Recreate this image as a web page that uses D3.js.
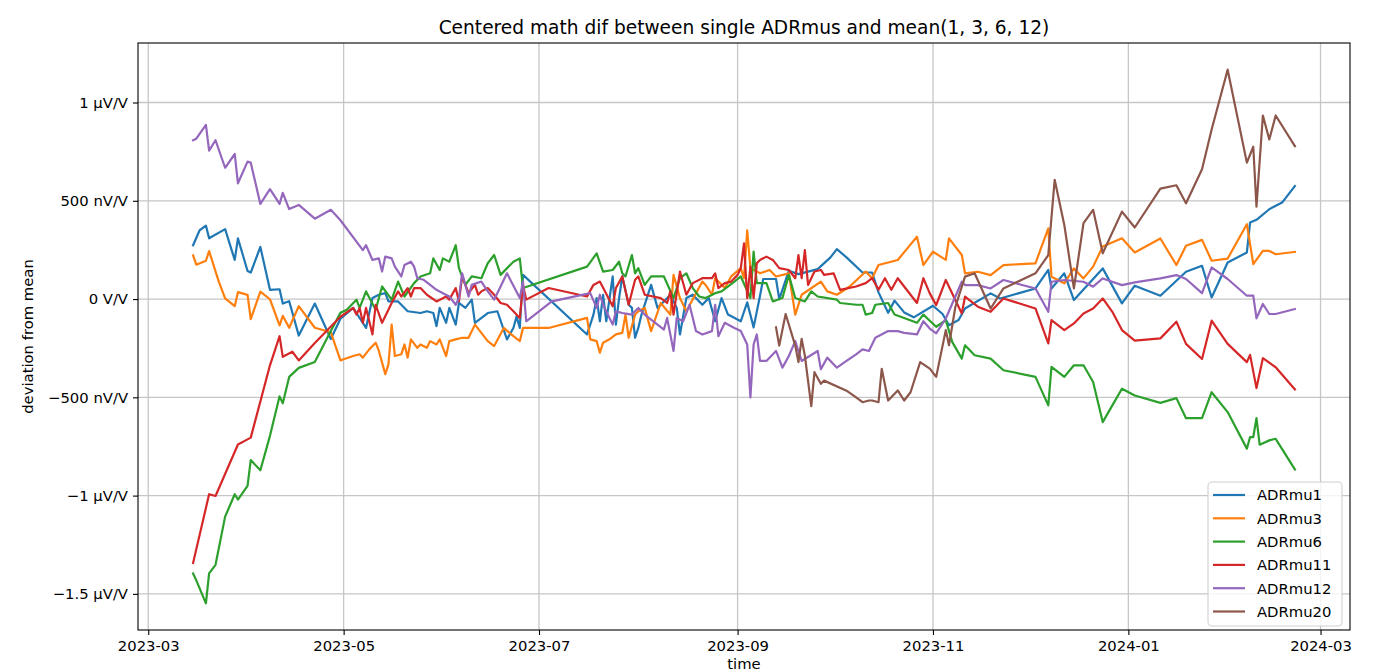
<!DOCTYPE html>
<html><head><meta charset="utf-8">
<script src="https://cdn.jsdelivr.net/npm/d3@7"></script>
<style>
body{margin:0;background:#fff;}
svg text{font-family:"DejaVu Sans",sans-serif;fill:#000;}
</style></head><body>
<svg id="chart" width="1382" height="671"></svg>
<script>
const chartTitle = "Centered math dif between single ADRmus and mean(1, 3, 6, 12)";
const xLabel = "time";
const yLabel = "deviation from mean";
const seriesNames = ["ADRmu1","ADRmu3","ADRmu6","ADRmu11","ADRmu12","ADRmu20"];
const seriesColors = ["#1f77b4","#ff7f0e","#2ca02c","#d62728","#9467bd","#8c564b"];
const yTickValues = [-1500,-1000,-500,0,500,1000]; // nV/V
const yTickLabels = ["\u22121.5 \u00b5V/V","\u22121 \u00b5V/V","\u2212500 nV/V","0 V/V","500 nV/V","1 \u00b5V/V"];
const xTickDates = ["2023-03-01","2023-05-01","2023-07-01","2023-09-01","2023-11-01","2024-01-01","2024-03-01"];
const xTickLabels = ["2023-03","2023-05","2023-07","2023-09","2023-11","2024-01","2024-03"];

// values in nV/V
const adrmu1 = [["2023-03-15",274],["2023-03-17",349],["2023-03-19",374],["2023-03-20",309],["2023-03-25",356],["2023-03-28",199],["2023-03-29",309],["2023-04-01",143],["2023-04-02",135],["2023-04-05",265],["2023-04-08",47],["2023-04-11",50],["2023-04-12",-23],["2023-04-14",-11],["2023-04-17",-186],["2023-04-22",-23],["2023-04-27",-203],["2023-04-30",-100],["2023-05-04",-45],["2023-05-05",-71],["2023-05-08",-147],["2023-05-10",5],["2023-05-12",22],["2023-05-14",30],["2023-05-15",-12],["2023-05-18",-12],["2023-05-21",-62],["2023-05-25",-71],["2023-05-27",-62],["2023-05-29",-71],["2023-05-30",-138],["2023-05-31",-45],["2023-06-02",-121],["2023-06-03",-45],["2023-06-05",-130],["2023-06-06",-20],["2023-06-08",-45],["2023-06-10",-3],["2023-06-11",-121],["2023-06-15",-71],["2023-06-18",-62],["2023-06-21",-205],["2023-06-23",-147],["2023-06-24",-88],["2023-06-25",-147],["2023-06-26",123],["2023-07-16",-180],["2023-07-18",-79],["2023-07-19",5],["2023-07-20",-113],["2023-07-21",22],["2023-07-22",-113],["2023-07-24",115],["2023-07-25",-130],["2023-07-26",5],["2023-07-27",115],["2023-07-29",-29],["2023-07-30",-45],["2023-07-31",-197],["2023-08-01",-147],["2023-08-02",-79],["2023-08-05",72],["2023-08-07",-45],["2023-08-09",-12],["2023-08-11",22],["2023-08-13",-45],["2023-08-14",-180],["2023-08-16",5],["2023-08-18",22],["2023-08-20",-12],["2023-08-21",-29],["2023-08-23",5],["2023-08-25",-113],["2023-08-27",5],["2023-08-29",-79],["2023-09-02",-113],["2023-09-04",-17],["2023-09-06",-144],["2023-09-08",17],["2023-09-09",102],["2023-09-13",102],["2023-09-14",0],["2023-09-17",144],["2023-09-20",127],["2023-09-26",152],["2023-09-30",212],["2023-10-02",254],["2023-10-05",212],["2023-10-10",135],["2023-10-13",135],["2023-10-15",34],["2023-10-18",-70],["2023-10-20",-8],["2023-10-23",-68],["2023-10-26",-93],["2023-11-01",-34],["2023-11-04",-76],["2023-11-06",-133],["2023-11-09",-107],["2023-11-11",-48],["2023-11-19",29],["2023-11-22",3],["2023-12-03",54],["2023-12-07",148],["2023-12-08",54],["2023-12-12",131],["2023-12-15",-5],["2023-12-24",156],["2023-12-30",-22],["2024-01-03",68],["2024-01-11",17],["2024-01-19",139],["2024-01-24",169],["2024-01-27",8],["2024-02-01",186],["2024-02-07",237],["2024-02-08",389],["2024-02-10",403],["2024-02-14",457],["2024-02-18",491],["2024-02-22",575]];

const adrmu3 = [["2023-03-15",222],["2023-03-16",175],["2023-03-19",195],["2023-03-20",244],["2023-03-23",90],["2023-03-25",3],["2023-03-28",-36],["2023-03-29",35],["2023-04-01",21],["2023-04-02",-102],["2023-04-05",38],["2023-04-08",-1],["2023-04-11",-134],["2023-04-12",-85],["2023-04-14",-146],["2023-04-17",-36],["2023-04-22",-146],["2023-04-27",-169],["2023-04-30",-312],["2023-05-01",-306],["2023-05-04",-290],["2023-05-06",-281],["2023-05-07",-298],["2023-05-09",-256],["2023-05-11",-222],["2023-05-12",-264],["2023-05-14",-382],["2023-05-15",-332],["2023-05-16",-130],["2023-05-17",-290],["2023-05-19",-281],["2023-05-20",-231],["2023-05-21",-298],["2023-05-22",-205],["2023-05-24",-248],["2023-05-25",-231],["2023-05-27",-248],["2023-05-28",-214],["2023-05-30",-231],["2023-05-31",-205],["2023-06-01",-248],["2023-06-02",-290],["2023-06-03",-214],["2023-06-05",-205],["2023-06-07",-197],["2023-06-09",-197],["2023-06-11",-130],["2023-06-15",-214],["2023-06-17",-239],["2023-06-20",-147],["2023-06-23",-189],["2023-06-25",-214],["2023-06-26",-147],["2023-07-04",-147],["2023-07-16",-96],["2023-07-17",-205],["2023-07-19",-214],["2023-07-20",-273],["2023-07-21",-222],["2023-07-23",-205],["2023-07-25",-180],["2023-07-27",-172],["2023-07-28",-79],["2023-07-29",-197],["2023-07-31",-79],["2023-08-01",-62],["2023-08-03",-45],["2023-08-05",-163],["2023-08-08",-20],["2023-08-11",-79],["2023-08-12",123],["2023-08-14",5],["2023-08-16",-62],["2023-08-21",89],["2023-08-22",72],["2023-08-24",22],["2023-08-25",106],["2023-08-28",56],["2023-08-30",115],["2023-09-02",157],["2023-09-03",106],["2023-09-04",350],["2023-09-05",157],["2023-09-08",131],["2023-09-11",148],["2023-09-13",115],["2023-09-17",131],["2023-09-19",-79],["2023-09-21",22],["2023-09-27",89],["2023-09-29",39],["2023-10-02",22],["2023-10-06",64],["2023-10-11",140],["2023-10-13",106],["2023-10-15",173],["2023-10-21",199],["2023-10-24",258],["2023-10-27",317],["2023-10-29",173],["2023-11-01",241],["2023-11-05",199],["2023-11-06",309],["2023-11-10",224],["2023-11-11",131],["2023-11-15",139],["2023-11-19",122],["2023-11-23",173],["2023-12-03",182],["2023-12-07",360],["2023-12-08",114],["2023-12-12",80],["2023-12-15",156],["2023-12-18",105],["2023-12-21",165],["2023-12-24",267],["2023-12-30",309],["2024-01-03",237],["2024-01-11",308],["2024-01-16",173],["2024-01-19",271],["2024-01-24",301],["2024-01-27",195],["2024-02-01",206],["2024-02-07",381],["2024-02-09",178],["2024-02-12",245],["2024-02-14",245],["2024-02-16",228],["2024-02-22",240]];

const adrmu6 = [["2023-03-15",-1396],["2023-03-16",-1431],["2023-03-19",-1548],["2023-03-20",-1396],["2023-03-22",-1352],["2023-03-25",-1107],["2023-03-28",-993],["2023-03-29",-1020],["2023-04-01",-950],["2023-04-02",-819],["2023-04-05",-871],["2023-04-08",-696],["2023-04-11",-495],["2023-04-12",-530],["2023-04-14",-396],["2023-04-17",-350],["2023-04-22",-320],["2023-04-27",-163],["2023-04-30",-70],["2023-05-02",-54],["2023-05-05",-3],["2023-05-06",-45],["2023-05-08",39],["2023-05-11",-54],["2023-05-13",64],["2023-05-16",-3],["2023-05-18",89],["2023-05-20",13],["2023-05-23",81],["2023-05-25",115],["2023-05-28",131],["2023-05-29",207],["2023-05-31",148],["2023-06-01",207],["2023-06-03",190],["2023-06-05",274],["2023-06-06",157],["2023-06-08",72],["2023-06-10",115],["2023-06-13",106],["2023-06-15",182],["2023-06-17",224],["2023-06-19",123],["2023-06-23",190],["2023-06-25",207],["2023-06-26",56],["2023-07-16",165],["2023-07-19",232],["2023-07-21",140],["2023-07-24",148],["2023-07-26",190],["2023-07-27",131],["2023-07-28",115],["2023-07-30",224],["2023-07-31",131],["2023-08-01",157],["2023-08-03",72],["2023-08-05",115],["2023-08-09",115],["2023-08-12",5],["2023-08-14",106],["2023-08-16",131],["2023-08-18",56],["2023-08-20",13],["2023-08-22",5],["2023-08-25",30],["2023-08-27",39],["2023-08-31",89],["2023-09-02",115],["2023-09-05",5],["2023-09-06",241],["2023-09-07",81],["2023-09-10",81],["2023-09-12",-12],["2023-09-15",5],["2023-09-17",123],["2023-09-19",5],["2023-09-22",-12],["2023-09-24",39],["2023-09-26",13],["2023-10-02",-3],["2023-10-03",-20],["2023-10-08",-29],["2023-10-10",-29],["2023-10-11",-79],["2023-10-13",-71],["2023-10-14",-29],["2023-10-18",-20],["2023-10-20",-79],["2023-10-23",-96],["2023-10-27",-121],["2023-10-29",-79],["2023-10-31",-110],["2023-11-02",-141],["2023-11-05",-107],["2023-11-07",-218],["2023-11-10",-303],["2023-11-11",-235],["2023-11-14",-286],["2023-11-19",-303],["2023-11-23",-362],["2023-12-03",-396],["2023-12-07",-541],["2023-12-08",-345],["2023-12-12",-396],["2023-12-15",-337],["2023-12-18",-337],["2023-12-21",-422],["2023-12-24",-626],["2023-12-27",-541],["2023-12-30",-456],["2024-01-03",-491],["2024-01-11",-528],["2024-01-16",-504],["2024-01-19",-606],["2024-01-24",-606],["2024-01-27",-474],["2024-02-01",-575],["2024-02-07",-761],["2024-02-08",-702],["2024-02-09",-702],["2024-02-10",-606],["2024-02-11",-741],["2024-02-14",-719],["2024-02-16",-711],["2024-02-22",-867]];

const adrmu11 = [["2023-03-15",-1343],["2023-03-20",-993],["2023-03-22",-1002],["2023-03-29",-740],["2023-04-01",-714],["2023-04-02",-705],["2023-04-05",-521],["2023-04-08",-337],["2023-04-11",-189],["2023-04-12",-294],["2023-04-15",-268],["2023-04-17",-312],["2023-04-22",-224],["2023-04-30",-90],["2023-05-04",-45],["2023-05-05",-79],["2023-05-06",-45],["2023-05-07",-121],["2023-05-08",-45],["2023-05-10",-180],["2023-05-11",-29],["2023-05-13",-121],["2023-05-14",-88],["2023-05-16",-20],["2023-05-18",39],["2023-05-19",13],["2023-05-21",56],["2023-05-22",13],["2023-05-23",56],["2023-05-25",56],["2023-05-27",22],["2023-05-30",-12],["2023-06-02",13],["2023-06-03",-3],["2023-06-05",56],["2023-06-06",-12],["2023-06-07",115],["2023-06-09",30],["2023-06-11",72],["2023-06-12",22],["2023-06-13",39],["2023-06-15",56],["2023-06-17",22],["2023-06-19",-20],["2023-06-21",-29],["2023-06-23",-62],["2023-06-25",-96],["2023-06-26",72],["2023-06-27",-3],["2023-07-04",56],["2023-07-16",13],["2023-07-18",72],["2023-07-20",89],["2023-07-24",-37],["2023-07-25",56],["2023-07-27",115],["2023-07-29",-29],["2023-07-31",98],["2023-08-01",115],["2023-08-03",22],["2023-08-08",5],["2023-08-10",-20],["2023-08-11",39],["2023-08-12",-79],["2023-08-14",140],["2023-08-16",22],["2023-08-18",81],["2023-08-21",106],["2023-08-24",106],["2023-08-25",131],["2023-08-26",56],["2023-08-28",81],["2023-08-30",89],["2023-09-01",123],["2023-09-02",157],["2023-09-03",283],["2023-09-04",5],["2023-09-05",165],["2023-09-06",5],["2023-09-07",182],["2023-09-08",199],["2023-09-10",216],["2023-09-12",199],["2023-09-14",157],["2023-09-17",148],["2023-09-19",106],["2023-09-20",224],["2023-09-21",106],["2023-09-22",249],["2023-09-23",72],["2023-09-25",140],["2023-09-27",148],["2023-09-28",123],["2023-10-01",131],["2023-10-03",47],["2023-10-08",64],["2023-10-11",81],["2023-10-13",106],["2023-10-15",47],["2023-10-17",106],["2023-10-19",47],["2023-10-21",106],["2023-10-23",64],["2023-10-27",-20],["2023-10-29",106],["2023-10-31",29],["2023-11-02",-31],["2023-11-05",97],["2023-11-10",-73],["2023-11-11",12],["2023-11-15",-39],["2023-11-19",-65],["2023-11-23",3],["2023-12-03",-48],["2023-12-07",-226],["2023-12-08",-107],["2023-12-12",-158],["2023-12-15",-124],["2023-12-18",-73],["2023-12-21",-48],["2023-12-24",3],["2023-12-27",-65],["2023-12-30",-158],["2024-01-03",-211],["2024-01-11",-200],["2024-01-16",-115],["2024-01-19",-228],["2024-01-24",-305],["2024-01-27",-110],["2024-02-01",-228],["2024-02-07",-321],["2024-02-08",-284],["2024-02-10",-453],["2024-02-12",-301],["2024-02-16",-347],["2024-02-22",-460]];

const adrmu12 = [["2023-03-15",808],["2023-03-16",816],["2023-03-19",886],["2023-03-20",755],["2023-03-22",808],["2023-03-25",668],["2023-03-28",738],["2023-03-29",589],["2023-04-01",699],["2023-04-02",694],["2023-04-05",484],["2023-04-08",559],["2023-04-11",484],["2023-04-12",540],["2023-04-14",458],["2023-04-17",479],["2023-04-22",409],["2023-04-27",454],["2023-04-30",401],["2023-05-07",249],["2023-05-08",274],["2023-05-10",199],["2023-05-12",207],["2023-05-13",140],["2023-05-14",216],["2023-05-16",207],["2023-05-17",165],["2023-05-19",115],["2023-05-20",173],["2023-05-22",190],["2023-05-23",165],["2023-05-24",106],["2023-05-26",98],["2023-05-30",47],["2023-06-01",30],["2023-06-03",13],["2023-06-05",-29],["2023-06-06",5],["2023-06-07",131],["2023-06-09",13],["2023-06-10",72],["2023-06-13",89],["2023-06-15",39],["2023-06-17",-3],["2023-06-21",131],["2023-06-25",5],["2023-06-26",89],["2023-06-27",-113],["2023-07-05",-12],["2023-07-17",30],["2023-07-19",-45],["2023-07-20",22],["2023-07-21",-29],["2023-07-24",-130],["2023-07-25",-62],["2023-07-27",-71],["2023-07-30",-79],["2023-08-01",-45],["2023-08-03",-79],["2023-08-07",-130],["2023-08-09",-155],["2023-08-10",-96],["2023-08-12",-264],["2023-08-13",-96],["2023-08-15",-113],["2023-08-17",-29],["2023-08-19",-163],["2023-08-21",-180],["2023-08-24",-163],["2023-08-25",-29],["2023-08-26",-189],["2023-08-28",-121],["2023-08-31",-147],["2023-09-02",-163],["2023-09-04",-231],["2023-09-05",-500],["2023-09-06",-231],["2023-09-07",-180],["2023-09-08",-315],["2023-09-10",-315],["2023-09-13",-264],["2023-09-15",-349],["2023-09-17",-290],["2023-09-19",-214],["2023-09-21",-315],["2023-09-26",-264],["2023-09-27",-357],["2023-09-29",-298],["2023-10-02",-349],["2023-10-05",-315],["2023-10-08",-281],["2023-10-10",-256],["2023-10-12",-264],["2023-10-14",-197],["2023-10-18",-163],["2023-10-21",-163],["2023-10-23",-172],["2023-10-27",-180],["2023-10-29",-113],["2023-10-31",-150],["2023-11-02",-175],["2023-11-05",-99],["2023-11-10",88],["2023-11-11",71],["2023-11-15",71],["2023-11-19",54],["2023-11-23",97],["2023-12-03",54],["2023-12-07",-65],["2023-12-08",88],["2023-12-12",97],["2023-12-18",88],["2023-12-21",63],["2023-12-24",105],["2023-12-30",71],["2024-01-03",85],["2024-01-11",105],["2024-01-16",122],["2024-01-19",102],["2024-01-24",30],["2024-01-27",161],["2024-02-01",102],["2024-02-07",17],["2024-02-09",17],["2024-02-10",-98],["2024-02-12",-25],["2024-02-14",-76],["2024-02-16",-76],["2024-02-22",-51]];

const adrmu20 = [["2023-09-13",-144],["2023-09-14",-237],["2023-09-16",-76],["2023-09-19",-237],["2023-09-20",-321],["2023-09-21",-203],["2023-09-22",-288],["2023-09-24",-545],["2023-09-25",-372],["2023-09-27",-431],["2023-09-28",-415],["2023-10-05",-466],["2023-10-08",-500],["2023-10-10",-525],["2023-10-12",-516],["2023-10-13",-516],["2023-10-15",-525],["2023-10-16",-355],["2023-10-18",-516],["2023-10-21",-465],["2023-10-23",-516],["2023-10-25",-474],["2023-10-28",-321],["2023-10-31",-354],["2023-11-02",-396],["2023-11-05",-158],["2023-11-06",-235],["2023-11-08",-39],["2023-11-11",114],["2023-11-14",131],["2023-11-19",-48],["2023-11-23",54],["2023-12-03",131],["2023-12-07",224],["2023-12-09",607],["2023-12-12",377],["2023-12-15",54],["2023-12-18",386],["2023-12-21",454],["2023-12-24",233],["2023-12-30",445],["2024-01-03",364],["2024-01-11",562],["2024-01-16",579],["2024-01-19",487],["2024-01-24",660],["2024-01-27",863],["2024-02-01",1167],["2024-02-07",694],["2024-02-09",775],["2024-02-10",470],["2024-02-12",934],["2024-02-14",812],["2024-02-16",934],["2024-02-22",778]];

const seriesData = [adrmu1, adrmu3, adrmu6, adrmu11, adrmu12, adrmu20];

const W = 1382, H = 671;
const plot = {left: 138, right: 1350, top: 43, bottom: 630};
const parse = d3.timeParse("%Y-%m-%d");
const series = seriesNames.map((name, i) => ({
  name, color: seriesColors[i],
  values: seriesData[i].map(([d, v]) => ({date: parse(d), value: v}))
}));
const all = series.flatMap(s => s.values);
const xExt = d3.extent(all, d => d.date);
const yExt = d3.extent(all, d => d.value);
const xPad = (xExt[1] - xExt[0]) * 0.05;
const yPad = (yExt[1] - yExt[0]) * 0.05;
const x = d3.scaleTime().domain([new Date(+xExt[0] - xPad), new Date(+xExt[1] + xPad)]).range([plot.left, plot.right]);
const y = d3.scaleLinear().domain([yExt[0] - yPad, yExt[1] + yPad]).range([plot.bottom, plot.top]);

const svg = d3.select("#chart");
svg.append("rect").attr("width", W).attr("height", H).attr("fill", "#fff");

const xTicks = xTickDates.map(parse);
const fontSize = 14.8;

// grid
const grid = svg.append("g").attr("stroke", "#c6c6c6").attr("stroke-width", 1.3);
grid.selectAll(".gx").data(xTicks).join("line")
  .attr("x1", d => x(d)).attr("x2", d => x(d)).attr("y1", plot.top).attr("y2", plot.bottom);
grid.selectAll(".gy").data(yTickValues).join("line")
  .attr("y1", d => y(d)).attr("y2", d => y(d)).attr("x1", plot.left).attr("x2", plot.right);

// lines
const line = d3.line().x(d => x(d.date)).y(d => y(d.value));
svg.append("g").selectAll("path").data(series).join("path")
  .attr("fill", "none").attr("stroke", d => d.color).attr("stroke-width", 2.2)
  .attr("stroke-linejoin", "round").attr("stroke-linecap", "square")
  .attr("d", d => line(d.values));

// axes
const xAxis = d3.axisBottom(x).tickValues(xTicks).tickFormat((d, i) => xTickLabels[i]).tickSize(5).tickPadding(5);
const gx = svg.append("g").attr("transform", `translate(0,${plot.bottom})`).call(xAxis);
const yAxis = d3.axisLeft(y).tickValues(yTickValues).tickFormat((d, i) => yTickLabels[i]).tickSize(5).tickPadding(5);
const gy = svg.append("g").attr("transform", `translate(${plot.left},0)`).call(yAxis);
[gx, gy].forEach(g => {
  g.select(".domain").remove();
  g.selectAll(".tick line").attr("stroke", "#000").attr("stroke-width", 1.1);
  g.selectAll(".tick text").attr("font-size", fontSize).attr("font-family", "DejaVu Sans").attr("fill", "#000");
});

// frame
svg.append("rect").attr("x", plot.left).attr("y", plot.top)
  .attr("width", plot.right - plot.left).attr("height", plot.bottom - plot.top)
  .attr("fill", "none").attr("stroke", "#000").attr("stroke-width", 1.1);

// title and labels
svg.append("text").attr("x", 744).attr("y", 34)
  .attr("text-anchor", "middle").attr("font-size", 18.6).text(chartTitle);
svg.append("text").attr("transform", `translate(33,${(plot.top + plot.bottom) / 2}) rotate(-90)`)
  .attr("text-anchor", "middle").attr("font-size", fontSize).text(yLabel);
svg.append("text").attr("x", (plot.left + plot.right) / 2).attr("y", 669)
  .attr("text-anchor", "middle").attr("font-size", fontSize).text(xLabel);

// legend
const lg = {x: 1208, y: 482, w: 134, h: 144, row: 23.3};
const legend = svg.append("g");
legend.append("rect").attr("x", lg.x).attr("y", lg.y).attr("width", lg.w).attr("height", lg.h)
  .attr("rx", 4).attr("fill", "#fff").attr("fill-opacity", 0.8).attr("stroke", "#d0d0d0").attr("stroke-width", 1.1);
const items = legend.selectAll("g.item").data(series).join("g").attr("class", "item")
  .attr("transform", (d, i) => `translate(${lg.x},${lg.y + 13 + i * lg.row})`);
items.append("line").attr("x1", 5).attr("x2", 37).attr("y1", 0).attr("y2", 0)
  .attr("stroke", d => d.color).attr("stroke-width", 2.2);
items.append("text").attr("x", 49).attr("y", 0).attr("dy", "0.36em")
  .attr("font-size", fontSize).text(d => d.name);
</script>
</body></html>
